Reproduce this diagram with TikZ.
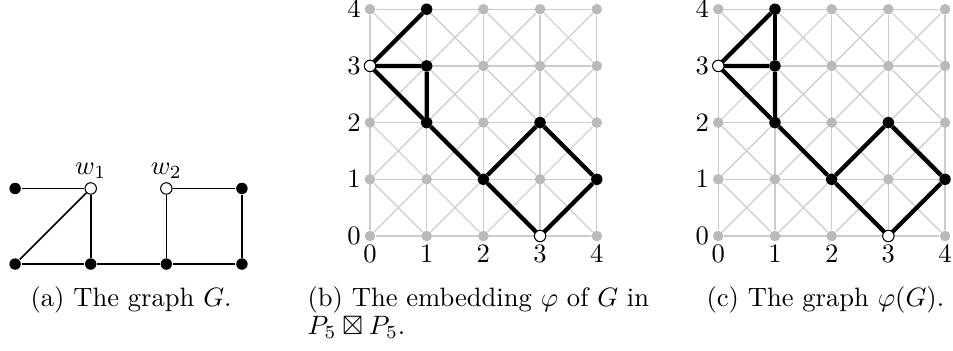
\documentclass[tikz,border=0pt]{standalone}
\usepackage{amssymb}
\usetikzlibrary{backgrounds}
\tikzset{
  vtx/.style={circle, fill=black, inner sep=0pt, minimum size=4.3pt},
  openvtx/.style={circle, draw=black, fill=white, line width=0.4pt, inner sep=0pt, minimum size=4.3pt},
  gridvtx/.style={circle, fill=black!27, inner sep=0pt, minimum size=4pt},
  gridedge/.style={black!20, line width=0.45pt},
  heavy/.style={line width=1.6pt},
  caption/.style={anchor=base west, inner sep=0pt},
}
\begin{document}
\begin{tikzpicture}
\useasboundingbox (0,0) rectangle (12.606,4.643);

\begin{scope}[shift={(0.2,1.15)}, semithick]
  \node[vtx] (ga) at (0,1) {};
  \node[openvtx, label={[inner sep=1pt]above:$w_1$}] (w1) at (1,1) {};
  \node[openvtx, label={[inner sep=1pt]above:$w_2$}] (w2) at (2,1) {};
  \node[vtx] (gd) at (3,1) {};
  \node[vtx] (ge) at (0,0) {};
  \node[vtx] (gf) at (1,0) {};
  \node[vtx] (gg) at (2,0) {};
  \node[vtx] (gh) at (3,0) {};
  \draw (ga) -- (w1) -- (gf);
  \draw (ge) -- (w1);
  \draw (ge) -- (gf) -- (gg) -- (gh);
  \draw (gg) -- (w2) -- (gd) -- (gh);
\end{scope}

\foreach \pn/\px in {b/4.894, c/9.501} {
  \begin{scope}[shift={(\px,1.521)}]
    \foreach \x in {0,...,4}
      \foreach \y in {0,...,4}
        \node[gridvtx] (\pn-\x-\y) at (0.75*\x,0.75*\y) {};
    \begin{scope}[on background layer]
      \foreach \i in {0,...,4} {
        \draw[gridedge] (\pn-\i-0) -- (\pn-\i-4);
        \draw[gridedge] (\pn-0-\i) -- (\pn-4-\i);
      }
      \foreach \x in {0,...,3}
        \foreach \y in {0,...,3} {
          \pgfmathtruncatemacro{\xn}{\x+1}
          \pgfmathtruncatemacro{\yn}{\y+1}
          \draw[gridedge] (\pn-\x-\y) -- (\pn-\xn-\yn);
          \draw[gridedge] (\pn-\xn-\y) -- (\pn-\x-\yn);
        }
    \end{scope}
    \foreach \i in {0,...,4} {
      \node[below] (\pn-lx\i) at (0.75*\i,0) {$\i$};
      \node[left] (\pn-ly\i) at (0,0.75*\i) {$\i$};
    }
  \end{scope}
  \draw[heavy] (\pn-0-3) -- (\pn-1-4) (\pn-0-3) -- (\pn-1-3) -- (\pn-1-2);
  \draw[heavy] (\pn-0-3) -- (\pn-1-2) -- (\pn-2-1) -- (\pn-3-0);
  \draw[heavy] (\pn-2-1) -- (\pn-3-2) -- (\pn-4-1) -- (\pn-3-0);
  \node[openvtx] (\pn-w1) at (\pn-0-3) {};
  \node[openvtx] (\pn-w2) at (\pn-3-0) {};
  \foreach \v in {1-4, 1-3, 1-2, 2-1, 3-2, 4-1}
    \node[vtx] (\pn-v\v) at (\pn-\v) {};
}
\draw[heavy] (c-v1-4) -- (c-v1-3);

\node[caption] (capa) at (0.397,0.582) {(a) The graph $G$.};
\node[caption] (capb) at (4.061,0.582) {(b) The embedding $\varphi$ of $G$ in};
\node[caption] (capbb) at (4.061,0.212) {$P_5 \boxtimes P_5$.};
\node[caption] (capc) at (9.339,0.582) {(c) The graph $\varphi(G)$.};

\end{tikzpicture}
\end{document}
